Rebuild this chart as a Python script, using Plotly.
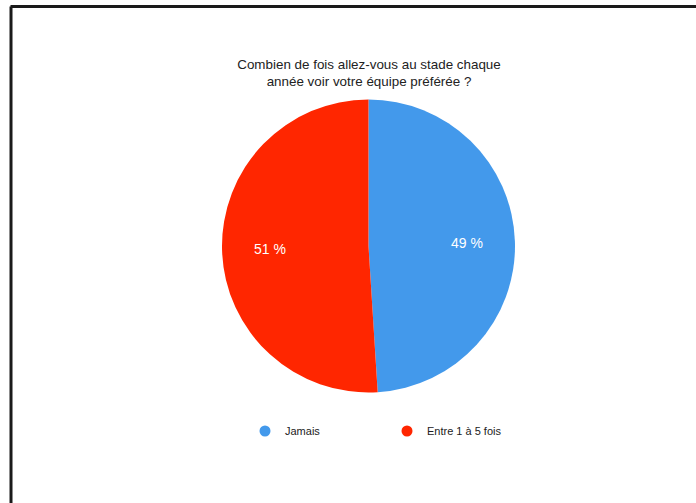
import math
import plotly.graph_objects as go

categories = ["Jamais", "Entre 1 à 5 fois"]
values = [49, 51]
colors = ["#4399EB", "#FF2600"]
title_text = "Combien de fois allez-vous au stade chaque<br>année voir votre équipe préférée ?"

W, H = 696, 503
FONT = "Liberation Sans, Arial, Helvetica, sans-serif"

cx, cy, r = 368.5, 246, 146.5

fig = go.Figure()
fig.add_trace(go.Pie(
    labels=categories, values=values, sort=False, direction="clockwise", rotation=0,
    marker=dict(colors=colors, line=dict(width=0)),
    textinfo="none",
    showlegend=False, hoverinfo="label+percent",
    domain=dict(x=[(cx - r) / W, (cx + r) / W], y=[1 - (cy + r) / H, 1 - (cy - r) / H]),
))
for name, col in zip(categories, colors):
    fig.add_trace(go.Scatter(x=[None], y=[None], mode="markers", name=name,
                             marker=dict(symbol="circle", size=11, color=col)))

# slice labels placed at the slice mid-angle
total = sum(values)
annotations = []
cum = 0
for v in values:
    mid = (cum + v / 2) / total * 2 * math.pi
    cum += v
    px = cx + 0.67 * r * math.sin(mid)
    py = cy - 0.67 * r * math.cos(mid)
    annotations.append(dict(x=px / W, y=1 - py / H, xref="paper", yref="paper",
                            xanchor="center", yanchor="middle",
                            text=f"{v} %", showarrow=False,
                            font=dict(color="white", size=14, family=FONT)))

fig.update_layout(
    width=W, height=H, autosize=False,
    margin=dict(l=0, r=0, t=0, b=0),
    paper_bgcolor="white", plot_bgcolor="white",
    font=dict(family=FONT, color="#222222"),
    title=dict(text=title_text, x=369 / W, xanchor="center", y=1 - 69 / H, yanchor="middle",
               font=dict(size=13.4, family=FONT, color="#222222")),
    xaxis=dict(visible=False), yaxis=dict(visible=False),
    legend=dict(orientation="h", x=245 / W, xanchor="left", y=1 - 431 / H, yanchor="middle",
                font=dict(size=11, family=FONT, color="#222222"),
                entrywidth=97, itemwidth=30, bgcolor="rgba(0,0,0,0)"),
    annotations=annotations,
    shapes=[
        dict(type="line", xref="paper", yref="paper", x0=10.5 / W, x1=1.01, y0=1 - 6.5 / H, y1=1 - 6.5 / H,
             line=dict(color="#1a1a1a", width=3)),
        dict(type="line", xref="paper", yref="paper", x0=11 / W, x1=11 / W, y0=1 - 6.5 / H, y1=-0.01,
             line=dict(color="#1a1a1a", width=3)),
    ],
)

fig.write_html("out.html", config={"displayModeBar": False},
               post_script="document.body.style.margin='0px';")
